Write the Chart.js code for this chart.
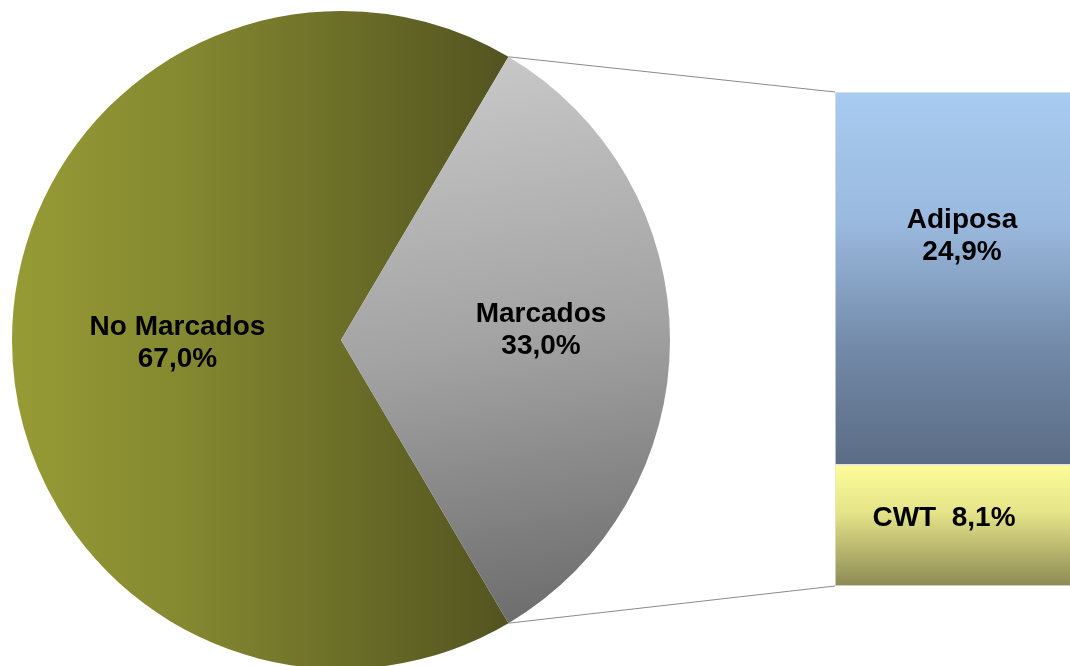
<!DOCTYPE html>
<html>
<head>
<meta charset="utf-8">
<script src="https://cdn.jsdelivr.net/npm/chart.js@4"></script>
<style>
  html, body { margin: 0; padding: 0; background: #fff; width: 1070px; height: 666px; overflow: hidden; position: relative; }
  #pieWrap { position: absolute; left: 0; top: 0; width: 1070px; height: 680px; }
  #barWrap { position: absolute; left: 835px; top: 92px; width: 254px; height: 494px; }
</style>
</head>
<body>
<div id="pieWrap"><canvas id="pie"></canvas></div>
<div id="barWrap"><canvas id="bar"></canvas></div>
<script>
const pieLabels = ['No Marcados', 'Marcados'];
const pieValues = [67.0, 33.0];
const barLabels = ['CWT', 'Adiposa'];
const barValues = [8.1, 24.9];

const FONT = "'Liberation Sans', Arial, sans-serif";
const fmt = v => v.toFixed(1).replace('.', ',') + '%';

function vGrad(ctx, y0, y1, stops) {
  const g = ctx.createLinearGradient(0, y0, 0, y1);
  stops.forEach(([p, c]) => g.addColorStop(p, c));
  return g;
}

const barStops = [
  [[0, '#fdfd99'], [0.4, '#e4e388'], [1, '#8c8a55']],
  [[0, '#a8cbf1'], [0.35, '#9ab9de'], [0.7, '#7188a6'], [1, '#5b6c85']]
];
const barFallback = ['#f0f08a', '#8aa4c4'];

function barColor(c) {
  const chart = c.chart;
  const y = chart.scales && chart.scales.y;
  const i = c.datasetIndex;
  if (!y || !chart.chartArea) return barFallback[i];
  let lo = 0;
  for (let k = 0; k < i; k++) lo += barValues[k];
  const hi = lo + barValues[i];
  const top = y.getPixelForValue(hi), bot = y.getPixelForValue(lo);
  if (!isFinite(top) || !isFinite(bot) || top === bot) return barFallback[i];
  return vGrad(chart.ctx, top, bot, barStops[i]);
}

const barLabelPlugin = {
  id: 'barLabels',
  afterDatasetsDraw(chart) {
    const ctx = chart.ctx;
    ctx.save();
    ctx.fillStyle = '#000';
    ctx.font = 'bold 28px ' + FONT;
    ctx.textAlign = 'center';
    ctx.textBaseline = 'middle';
    const cwt = chart.getDatasetMeta(0).data[0];
    const adi = chart.getDatasetMeta(1).data[0];
    const ay = adi.y + (adi.base - adi.y) * 0.388;
    ctx.fillText(barLabels[1], adi.x, ay - 16);
    ctx.fillText(fmt(barValues[1]), adi.x, ay + 16);
    const cy = cwt.y + (cwt.base - cwt.y) * 0.44;
    ctx.fillText(barLabels[0] + '  ' + fmt(barValues[0]), cwt.x - 18, cy);
    ctx.restore();
  }
};

const barChart = new Chart(document.getElementById('bar'), {
  type: 'bar',
  data: {
    labels: [''],
    datasets: barLabels.map((l, i) => ({
      label: l,
      data: [barValues[i]],
      backgroundColor: barColor,
      borderColor: 'rgba(225,225,225,0.9)',
      borderWidth: 1,
      borderSkipped: false,
      barPercentage: 1,
      categoryPercentage: 1
    }))
  },
  options: {
    responsive: true,
    maintainAspectRatio: false,
    animation: false,
    layout: { padding: 0 },
    plugins: { legend: { display: false }, tooltip: { enabled: false } },
    scales: {
      x: { stacked: true, display: false },
      y: { stacked: true, display: false, min: 0, max: barValues.reduce((a, b) => a + b, 0) }
    }
  },
  plugins: [barLabelPlugin]
});

function pieColor(c) {
  const chart = c.chart;
  const a = chart.chartArea;
  const i = c.dataIndex;
  if (!a) return i === 0 ? '#767a2c' : '#999999';
  const cx = (a.left + a.right) / 2, cy = (a.top + a.bottom) / 2;
  if (i === 0) {
    const g = chart.ctx.createLinearGradient(a.left, 0, cx + 170, 0);
    g.addColorStop(0, '#979b35'); g.addColorStop(0.35, '#848830'); g.addColorStop(1, '#525320');
    return g;
  }
  const g = chart.ctx.createLinearGradient(cx + 150, cy - 285, cx + 250, cy + 285);
  g.addColorStop(0, '#c8c8c8'); g.addColorStop(0.5, '#a2a2a2'); g.addColorStop(1, '#6a6a6a');
  return g;
}

const pieExtrasPlugin = {
  id: 'pieExtras',
  afterDatasetsDraw(chart) {
    const ctx = chart.ctx;
    const meta = chart.getDatasetMeta(0);
    ctx.save();
    ctx.fillStyle = '#000';
    ctx.font = 'bold 28px ' + FONT;
    ctx.textAlign = 'center';
    ctx.textBaseline = 'middle';
    const fr = [0.497, 0.608];
    const dy = [3, -10];
    meta.data.forEach((arc, i) => {
      const mid = (arc.startAngle + arc.endAngle) / 2;
      const r = arc.outerRadius * fr[i];
      const x = arc.x + Math.cos(mid) * r;
      const y = arc.y + Math.sin(mid) * r + dy[i];
      ctx.fillText(pieLabels[i], x, y - 16);
      ctx.fillText(fmt(pieValues[i]), x, y + 16);
    });
    const m = meta.data[1];
    const p1 = [m.x + Math.cos(m.startAngle) * m.outerRadius, m.y + Math.sin(m.startAngle) * m.outerRadius];
    const p2 = [m.x + Math.cos(m.endAngle) * m.outerRadius, m.y + Math.sin(m.endAngle) * m.outerRadius];
    const bwrap = document.getElementById('barWrap');
    const ox = bwrap.offsetLeft, oy = bwrap.offsetTop;
    const adi = barChart.getDatasetMeta(1).data[0];
    const cwt = barChart.getDatasetMeta(0).data[0];
    const bx = ox + adi.x - adi.width / 2;
    const topY = oy + adi.y;
    const botY = oy + cwt.base;
    ctx.strokeStyle = '#8a8a8a';
    ctx.lineWidth = 1;
    ctx.beginPath();
    ctx.moveTo(p1[0], p1[1]); ctx.lineTo(bx, topY);
    ctx.moveTo(p2[0], p2[1]); ctx.lineTo(bx, botY);
    ctx.stroke();
    ctx.restore();
  }
};

new Chart(document.getElementById('pie'), {
  type: 'pie',
  data: {
    labels: pieLabels,
    datasets: [{
      data: pieValues,
      backgroundColor: pieColor,
      borderWidth: 0,
      hoverOffset: 0
    }]
  },
  options: {
    responsive: true,
    maintainAspectRatio: false,
    animation: false,
    rotation: 149.4,
    layout: { padding: { left: 11, top: 11, bottom: 11, right: 399 } },
    plugins: { legend: { display: false }, tooltip: { enabled: false } }
  },
  plugins: [pieExtrasPlugin]
});
</script>
</body>
</html>
